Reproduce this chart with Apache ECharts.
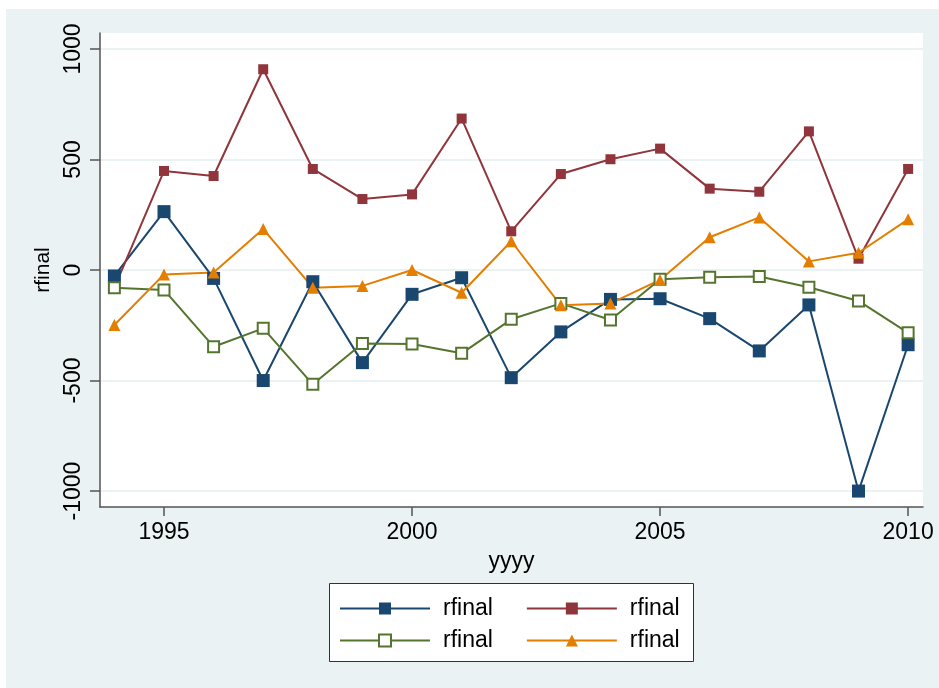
<!DOCTYPE html>
<html>
<head>
<meta charset="utf-8">
<script src="https://cdn.jsdelivr.net/npm/echarts@6/dist/echarts.min.js"></script>
<style>
html,body{margin:0;padding:0;background:#ffffff;}
#chart{width:939px;height:688px;}
</style>
</head>
<body>
<div id="chart"></div>
<script>
// Data
const years = [1994,1995,1996,1997,1998,1999,2000,2001,2002,2003,2004,2005,2006,2007,2008,2009,2010];
const navyValues   = [-27, 264, -38, -500, -53, -419, -110, -35, -487, -280, -133, -130, -220, -366, -158, -1000, -338];
const maroonValues = [-80, 448, 425, 908, 457, 321, 342, 685, 175, 434, 501, 549, 368, 354, 627, 51, 457];
const greenValues  = [-80, -90, -347, -264, -517, -332, -335, -377, -223, -151, -226, -42, -33, -29, -78, -140, -284];
const orangeValues = [-249, -20, -11, 185, -80, -72, 0, -103, 130, -160, -151, -45, 148, 238, 39, 78, 229];
const xTicks = [1995, 2000, 2005, 2010];
const yTicks = [-1000, -500, 0, 500, 1000];
const seriesLabel = 'rfinal';

const FONT = "'Liberation Sans', Arial, Helvetica, sans-serif";
const pair = (vals) => years.map((y, i) => [y, vals[i]]);
const plain = (v) => String(v);

const chart = echarts.init(document.getElementById('chart'), null, {renderer: 'canvas'});

function mkSeries(id, vals, color, symbol, size, hollow) {
  return {
    name: id,
    type: 'line',
    data: pair(vals),
    symbol: symbol,
    symbolSize: size,
    showAllSymbol: true,
    lineStyle: {color: color, width: 2},
    itemStyle: hollow ? {color: '#ffffff', borderColor: color, borderWidth: 2}
                      : {color: color, borderWidth: 0},
    emphasis: {disabled: true},
    animation: false,
    z: 3
  };
}

const legendCommon = {
  orient: 'horizontal',
  itemWidth: 90,
  itemHeight: 15,
  itemGap: 33,
  padding: 0,
  selectedMode: false,
  formatter: () => seriesLabel,
  textStyle: {fontFamily: FONT, fontSize: 23, color: '#000', padding: [0, 0, 0, 8]}
};

const option = {
  backgroundColor: '#ffffff',
  animation: false,
  graphic: [
    {type: 'rect', z: -10, silent: true, shape: {x: 6, y: 9, width: 933, height: 679}, style: {fill: '#EAF2F3'}},
    {type: 'rect', z: 0, silent: true, shape: {x: 329.5, y: 583.5, width: 364, height: 78}, style: {fill: '#ffffff', stroke: '#333333', lineWidth: 1}}
  ],
  grid: {
    left: 100, top: 33, right: 16, bottom: 181,
    show: true, backgroundColor: '#ffffff', borderWidth: 0
  },
  xAxis: {
    type: 'value',
    min: 1993.71, max: 2010.30,
    name: 'yyyy',
    nameLocation: 'middle',
    nameGap: 43,
    nameTextStyle: {fontFamily: FONT, fontSize: 23, color: '#000'},
    axisLine: {show: true, onZero: false, lineStyle: {color: '#555555', width: 1.5}},
    axisTick: {show: true, length: 9, customValues: xTicks, lineStyle: {color: '#555555', width: 1.5}},
    axisLabel: {customValues: xTicks, formatter: plain, margin: 14, fontFamily: FONT, fontSize: 23, color: '#000'},
    splitLine: {show: false}
  },
  yAxis: {
    type: 'value',
    min: -1072, max: 1072,
    name: 'rfinal',
    nameLocation: 'middle',
    nameRotate: 90,
    nameGap: 43,
    nameTextStyle: {fontFamily: FONT, fontSize: 21, color: '#000'},
    axisLine: {show: true, onZero: false, lineStyle: {color: '#555555', width: 1.5}},
    axisTick: {show: true, length: 10, customValues: yTicks, lineStyle: {color: '#555555', width: 1.5}},
    axisLabel: {customValues: yTicks, formatter: plain, rotate: 90, margin: 15, fontFamily: FONT, fontSize: 23, color: '#000'},
    splitLine: {show: true, lineStyle: {color: '#EAF2F3', width: 2}}
  },
  legend: [
    Object.assign({}, legendCommon, {left: 339, top: 597, data: ['s1', 's2']}),
    Object.assign({}, legendCommon, {left: 339, top: 629, data: ['s3', 's4']})
  ],
  series: [
    mkSeries('s1', navyValues, '#1A476F', 'rect', 13, false),
    mkSeries('s2', maroonValues, '#90353B', 'rect', 10, false),
    mkSeries('s3', greenValues, '#55752F', 'rect', 11, true),
    mkSeries('s4', orangeValues, '#E37E00', 'triangle', 12, false)
  ]
};
chart.setOption(option);
</script>
</body>
</html>
